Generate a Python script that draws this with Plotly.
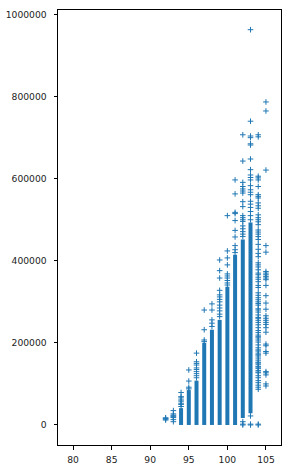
import plotly.graph_objects as go

# Dense (solid) ranges of stacked markers per x value
band_x = [94, 95, 96, 97, 98, 99, 100, 101, 102, 103]
band_lo = [0, 0, 0, 0, 0, 0, 0, 0, 17000, 28500]
band_hi = [41000, 85000, 108000, 200000, 232000, 256000, 337000, 415000, 452000, 493000]

# Individual (sparse) points per x value
pts_92 = [12000, 14000, 16000, 17500]
pts_93 = [8000, 13000, 18000, 20000, 22000, 24000, 27000, 35000]
pts_94 = [45000, 50000, 53000, 58000, 61000, 66000, 69000, 79000]
pts_95 = [88000, 92000, 107000, 134000]
pts_96 = [115000, 120000, 125000, 130000, 135000, 139000, 146000, 150000, 154000, 175000]
pts_97 = [203000, 207000, 232000, 280000]
pts_98 = [240000, 248000, 256000, 280000, 295000]
pts_99 = [264000, 270000, 278000, 285000, 292000, 300000, 306000, 312000, 317000,
          328000, 358000, 376000, 402000]
pts_100 = [341000, 346000, 352000, 358000, 363000, 368000, 390000, 407000, 424000, 510000]
pts_101 = [420000, 427000, 437000, 458000, 474000, 498000, 515000, 518000, 563000, 597000]
pts_102 = [0, 2000, 8000, 459000, 465000, 471000, 478000, 485000, 496000, 500000, 505000,
           510000, 532000, 544000, 565000, 570000, 575000, 581000, 591000, 643000, 707000]
pts_103 = [0, 2000, 22000, 500000, 510000, 520000, 530000, 538000, 545000, 561000,
           567000, 573000, 583000, 597000, 603000, 609000, 622000, 648000, 682000,
           685000, 700000, 704000, 740000, 963000]
pts_104 = [0, 2000, 87000, 92000, 97000, 103000, 108000, 115000, 120000, 127000, 129000,
           133000, 138000, 141000, 143000, 148000, 151000, 153000, 158000, 163000, 168000,
           171000, 175000, 180000, 183000, 188000, 195000, 202000, 207000, 212000, 215000,
           219000, 225000, 230000, 237000, 244000, 250000, 255000, 260000, 262000, 268000,
           275000, 280000, 283000, 292000, 296000, 300000, 305000, 310000, 316000, 322000,
           335000, 340000, 349000, 355000, 360000, 366000, 370000, 378000, 385000, 390000,
           395000, 410000, 418000, 428000, 440000, 452000, 459000, 465000, 470000, 475000,
           488000, 495000, 500000, 505000, 512000, 528000, 534000, 541000, 553000, 557000,
           561000, 581000, 597000, 602000, 606000, 702000, 707000]
pts_105 = [95000, 100000, 122000, 127000, 130000, 175000, 179000, 193000, 197000,
           226000, 237000, 245000, 250000, 255000, 260000, 266000, 282000, 297000,
           315000, 340000, 354000, 358000, 362000, 366000, 370000, 374000, 421000,
           437000, 621000, 765000, 787000]

point_sets = {92: pts_92, 93: pts_93, 94: pts_94, 95: pts_95, 96: pts_96, 97: pts_97,
              98: pts_98, 99: pts_99, 100: pts_100, 101: pts_101, 102: pts_102,
              103: pts_103, 104: pts_104, 105: pts_105}

x_ticks = [80, 85, 90, 95, 100, 105]
y_ticks = [0, 200000, 400000, 600000, 800000, 1000000]

COLOR = "#1f77b4"

# band line traces
bx, by = [], []
for x, lo, hi in zip(band_x, band_lo, band_hi):
    bx += [x, x, None]
    by += [lo, hi, None]

px_, py_ = [], []
for x, ys in point_sets.items():
    px_ += [x] * len(ys)
    py_ += ys

fig = go.Figure()
fig.add_trace(go.Scatter(x=bx, y=by, mode="lines",
                         line=dict(color=COLOR, width=4), hoverinfo="skip",
                         showlegend=False))
fig.add_trace(go.Scatter(x=px_, y=py_, mode="markers",
                         marker=dict(symbol="cross-thin", size=4,
                                     line=dict(color=COLOR, width=1)),
                         showlegend=False))

axis_common = dict(showline=True, mirror=True, linecolor="#000000", linewidth=1,
                   ticks="outside", ticklen=3.5, tickwidth=0.8, tickcolor="#000000",
                   showgrid=False, zeroline=False, automargin=False,
                   tickfont=dict(family="DejaVu Sans", size=9.2, color="#222222"))

fig.update_layout(
    width=291, height=469,
    margin=dict(l=58, r=10, t=10, b=24, autoexpand=False),
    paper_bgcolor="white", plot_bgcolor="white",
    xaxis=dict(range=[78.05, 106.95], tickvals=x_ticks, ticklabelstandoff=2, **axis_common),
    yaxis=dict(range=[-48800, 1011000], tickvals=y_ticks, tickformat="d",
               ticklabelstandoff=5, **axis_common),
)

fig.write_html("out.html", config={"displayModeBar": False},
               post_script="document.body.style.margin='0';document.body.style.padding='0';")
